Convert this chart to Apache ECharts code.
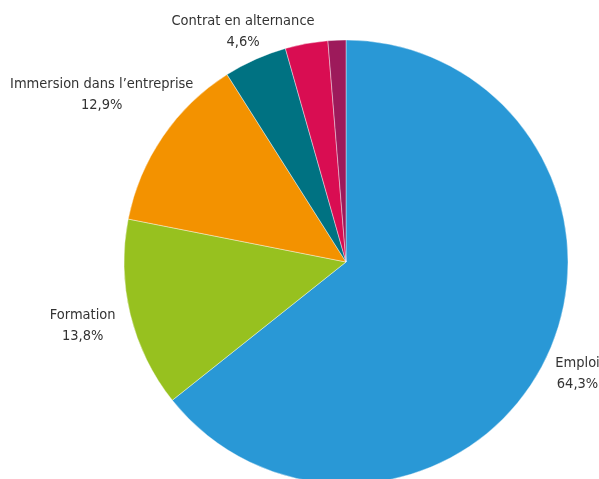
<!DOCTYPE html>
<html>
<head>
<meta charset="utf-8">
<script src="https://cdn.jsdelivr.net/npm/echarts@6/dist/echarts.min.js"></script>
<style>
html,body{margin:0;padding:0;background:#fff;}
#chart{width:599px;height:479px;}
</style>
</head>
<body>
<div id="chart"></div>
<script>
const categories = ['Emploi', 'Formation', 'Immersion dans l’entreprise', 'Contrat en alternance', 'Autre', 'Non renseigné'];
const values = [64.3, 13.8, 12.9, 4.6, 3.1, 1.3];
const showLabel = [true, true, true, true, false, false];

const colors = ['#2998D6', '#97C11F', '#F39200', '#007282', '#D90D52', '#9D1A5B'];
const labelDistance = [257, 271, 296, 252];
const cx = 346, cy = 262, R = 222;

const total = values.reduce((a, b) => a + b, 0);
const midAngles = [];
let acc = 0;
values.forEach(v => { midAngles.push((acc + v / 2) / total * 2 * Math.PI); acc += v; });

const chart = echarts.init(document.getElementById('chart'), null, {renderer: 'canvas'});
chart.setOption({
  animation: false,
  series: [{
    type: 'pie',
    center: [cx, cy],
    radius: R,
    startAngle: 90,
    clockwise: true,
    silent: true,
    avoidLabelOverlap: false,
    itemStyle: {borderWidth: 0.4, borderColor: '#ffffff'},
    label: {
      show: true,
      position: 'outside',
      alignTo: 'none',
      overflow: 'none',
      color: '#333333',
      fontSize: 14.5,
      lineHeight: 21,
      fontFamily: "'Liberation Sans Narrow', 'DejaVu Sans Condensed', Roboto, sans-serif",
      align: 'center',
      formatter: p => p.name + '\n' + p.value.toFixed(1).replace('.', ',') + '%'
    },
    labelLine: {show: false},
    labelLayout: function (p) {
      const i = p.dataIndex;
      const d = labelDistance[i] || R;
      const a = midAngles[i];
      return {
        x: cx + d * Math.sin(a),
        y: cy - d * Math.cos(a),
        align: 'center',
        verticalAlign: 'middle',
        width: 400
      };
    },
    data: categories.map((c, i) => ({
      name: c,
      value: values[i],
      itemStyle: {color: colors[i]},
      label: {show: showLabel[i]}
    }))
  }]
});
</script>
</body>
</html>
